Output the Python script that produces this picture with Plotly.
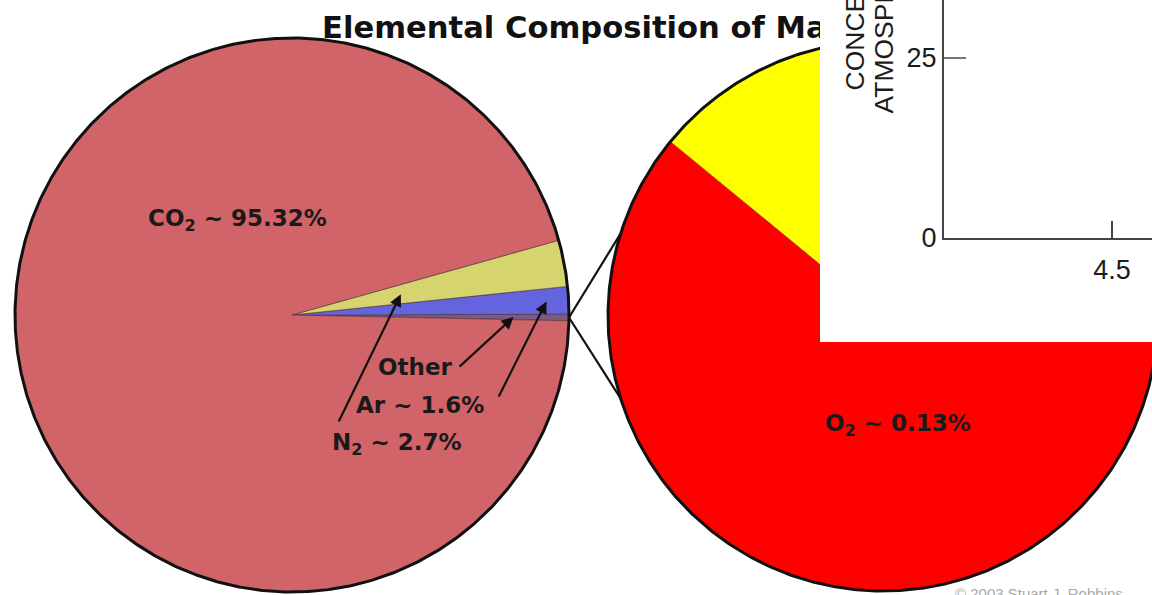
import numpy as np
import plotly.graph_objects as go

# Bulk composition of the Martian atmosphere (percent by volume)
gas_names = ["Other", "Ar", "N<sub>2</sub>", "CO<sub>2</sub>"]
gas_percent = [0.38, 1.6, 2.7, 95.32]
gas_colors = ["#7b5a86", "#6464de", "#d5d46f", "#d06468"]

# Breakdown of the "Other" share
minor_names = ["O<sub>2</sub>", "CO"]
minor_percent = [0.13, 0.07]
minor_colors = ["#ff0000", "#ffff00"]

# Overlaid concentration chart (axis fragment)
conc_y_ticks = [0, 25]
conc_x_ticks = [4.5]

# canvas: the base axes use a W x SPAN_Y unit frame
W, H = 1152, 610
SPAN_Y = 595
FONT_BOLD = "DejaVu Sans"
FONT_PLAIN = "Liberation Sans, Arial, sans-serif"

# pie geometry in base-axis units (start angle: degrees, counterclockwise from 3 o'clock)
BIG = dict(cx=292, cy=315, r=277, start=-1.2)
SMALL = dict(cx=883, cy=316, r=275, start=140.6)


def slice_angles(values, start):
    total = float(sum(values))
    edges = start + 360.0 * np.concatenate([[0.0], np.cumsum(values)]) / total
    return list(zip(edges[:-1], edges[1:]))


def wedge(geo, a0, a1):
    n = max(4, int(abs(a1 - a0) * 3) + 2)
    t = np.radians(np.linspace(a0, a1, n))
    xs = np.concatenate([[geo["cx"]], geo["cx"] + geo["r"] * np.cos(t), [geo["cx"]]])
    ys = np.concatenate([[geo["cy"]], geo["cy"] - geo["r"] * np.sin(t), [geo["cy"]]])
    return xs, ys


def rim(geo):
    t = np.radians(np.linspace(0, 360, 721))
    return geo["cx"] + geo["r"] * np.cos(t), geo["cy"] - geo["r"] * np.sin(t)


def polar(geo, ang, frac=1.0):
    a = np.radians(ang)
    return geo["cx"] + frac * geo["r"] * np.cos(a), geo["cy"] - frac * geo["r"] * np.sin(a)


fig = go.Figure()

big_angles = slice_angles(gas_percent, BIG["start"])
small_angles = slice_angles(minor_percent, SMALL["start"])

for (a0, a1), col in zip(big_angles, gas_colors):
    xs, ys = wedge(BIG, a0, a1)
    fig.add_trace(go.Scatter(x=xs, y=ys, mode="lines", fill="toself", fillcolor=col,
                             line=dict(color="rgba(70,40,50,0.55)", width=1),
                             hoverinfo="skip", showlegend=False))

for (a0, a1), col in zip(small_angles, minor_colors):
    xs, ys = wedge(SMALL, a0, a1)
    fig.add_trace(go.Scatter(x=xs, y=ys, mode="lines", fill="toself", fillcolor=col,
                             line=dict(color="rgba(90,40,20,0.35)", width=0.8),
                             hoverinfo="skip", showlegend=False))

for geo in (BIG, SMALL):
    xs, ys = rim(geo)
    fig.add_trace(go.Scatter(x=xs, y=ys, mode="lines", line=dict(color="#111111", width=3),
                             hoverinfo="skip", showlegend=False))

# connectors from the "Other" sliver to the breakdown pie
other_mid = sum(big_angles[0]) / 2
ox, oy = polar(BIG, other_mid)
SPREAD = 17.5
for ang in (180 - SPREAD, 180 + SPREAD):
    px, py = polar(SMALL, ang)
    fig.add_trace(go.Scatter(x=[ox, px], y=[oy, py], mode="lines",
                             line=dict(color="#111111", width=2.2),
                             hoverinfo="skip", showlegend=False))

# heading sits under the overlaid panel, so it lives in the base plot
fig.add_trace(go.Scatter(x=[322], y=[30], mode="text",
                         text=["Elemental Composition of Mars' Atmosphere"],
                         textposition="middle right",
                         textfont=dict(family=FONT_BOLD, size=30.6, color="#111111", weight="bold"),
                         hoverinfo="skip", showlegend=False))

# empty traces that create the overlay panel and its axes
fig.add_trace(go.Scatter(x=[], y=[], xaxis="x2", yaxis="y2", hoverinfo="skip", showlegend=False))
fig.add_trace(go.Scatter(x=[], y=[], xaxis="x3", yaxis="y3", hoverinfo="skip", showlegend=False))

annotations = []

label_font = dict(family=FONT_BOLD, size=23, color="#1a1a1a", weight="bold")


def pct(v):
    return f"{v:g}%"


# slice labels
annotations.append(dict(x=237, y=220, xref="x", yref="y", showarrow=False,
                        text=f"{gas_names[3]} ~ {pct(gas_percent[3])}", font=label_font))
annotations.append(dict(x=415, y=367, xref="x", yref="y", showarrow=False,
                        text=gas_names[0], font=label_font))
annotations.append(dict(x=420, y=405, xref="x", yref="y", showarrow=False,
                        text=f"{gas_names[1]} ~ {pct(gas_percent[1])}", font=label_font))
annotations.append(dict(x=397, y=444, xref="x", yref="y", showarrow=False,
                        text=f"{gas_names[2]} ~ {pct(gas_percent[2])}", font=label_font))
annotations.append(dict(x=898, y=425, xref="x", yref="y", showarrow=False,
                        text=f"{minor_names[0]} ~ {pct(minor_percent[0])}", font=label_font))

# pointer arrows: tail near the label, head inside the slice
pointer_tails = [(458, 368), (498, 398), (338, 423)]
pointer_depth = [0.8, 0.92, 0.4]
for i, (tail, depth) in enumerate(zip(pointer_tails, pointer_depth)):
    hx, hy = polar(BIG, sum(big_angles[i]) / 2, depth)
    annotations.append(dict(x=hx, y=hy, ax=tail[0], ay=tail[1], xref="x", yref="y",
                            axref="x", ayref="y", text="", showarrow=True,
                            arrowhead=2, arrowsize=1.1, arrowwidth=2.2, arrowcolor="#111111"))

# y title of the overlaid chart (runs off the top edge)
title_font = dict(family=FONT_PLAIN, size=26.5, color="#1c1c1c")
annotations.append(dict(x=854, y=93, xref="x", yref="y", textangle=-90, showarrow=False,
                        xanchor="center", yanchor="bottom",
                        text="CONCENTRATION IN", font=title_font))
annotations.append(dict(x=883, y=115.5, xref="x", yref="y", textangle=-90, showarrow=False,
                        xanchor="center", yanchor="bottom",
                        text="ATMOSPHERE (%)", font=title_font))

# credit line along the bottom edge
annotations.append(dict(x=953, y=583, xref="x", yref="y", showarrow=False,
                        xanchor="left", yanchor="top",
                        text="© 2003 Stuart J. Robbins",
                        font=dict(family=FONT_PLAIN, size=15, color="#a8a8a8")))

tick_font = dict(family=FONT_PLAIN, size=27, color="#1c1c1c")

fig.update_layout(
    width=W, height=H,
    margin=dict(l=0, r=0, t=0, b=0),
    paper_bgcolor="white", plot_bgcolor="white",
    showlegend=False,
    xaxis=dict(domain=[0, 1], range=[0, W], visible=False, fixedrange=True),
    yaxis=dict(domain=[0, 1], range=[SPAN_Y, 0], visible=False, fixedrange=True),
    # blank white panel
    xaxis2=dict(domain=[820 / W, 1], anchor="y2", range=[0, 1], showgrid=False, zeroline=False,
                showticklabels=False, ticks="", showline=False, fixedrange=True),
    yaxis2=dict(domain=[1 - 342 / SPAN_Y, 1], anchor="x2", range=[0, 1], showgrid=False,
                zeroline=False, showticklabels=False, ticks="", showline=False, fixedrange=True),
    # concentration chart axes
    xaxis3=dict(domain=[944 / W, 1], anchor="y3", range=[5.0, 4.381],
                tickmode="array", tickvals=conc_x_ticks, ticktext=[f"{v:g}" for v in conc_x_ticks],
                ticks="inside", ticklen=17, tickwidth=2, tickcolor="#444444",
                showline=True, linecolor="#444444", linewidth=2,
                showgrid=False, zeroline=False, tickfont=tick_font,
                ticklabelstandoff=7, fixedrange=True),
    yaxis3=dict(domain=[1 - 238 / SPAN_Y, 1], anchor="x3", range=[0, 238 / 7.2],
                tickmode="array", tickvals=conc_y_ticks, ticktext=[f"{v:g}" for v in conc_y_ticks],
                ticks="inside", ticklen=22, tickwidth=1.5, tickcolor="#777777",
                showline=True, linecolor="#444444", linewidth=2,
                showgrid=False, zeroline=False, tickfont=tick_font,
                ticklabelstandoff=0, fixedrange=True),
    annotations=annotations,
)

fig.write_html("out.html")
